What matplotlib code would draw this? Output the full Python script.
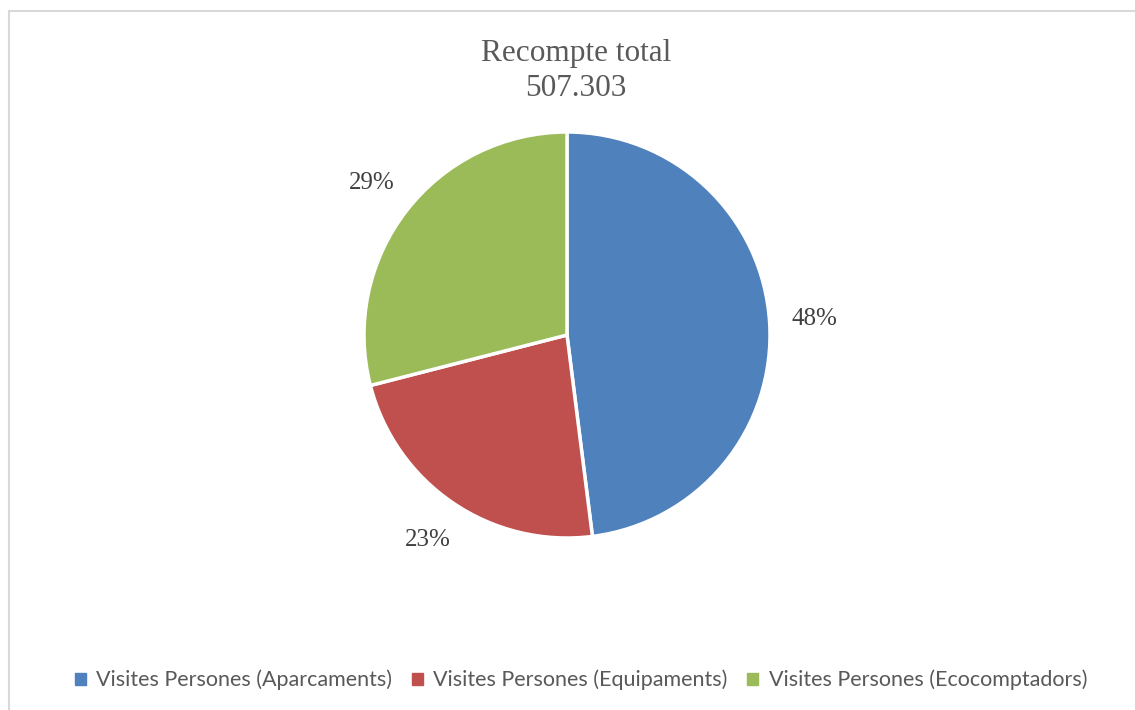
import matplotlib.pyplot as plt
from matplotlib.patches import Rectangle

# pie data
categories = ['Visites Persones (Aparcaments)',
              'Visites Persones (Equipaments)',
              'Visites Persones (Ecocomptadors)']
shares = [48, 23, 29]
colors = ['#4F81BD', '#C0504D', '#9BBB59']
title = 'Recompte total\n507.303'

W, H = 1135, 710
fig = plt.figure(figsize=(W / 100, H / 100), dpi=100)

# light grey chart frame (right and bottom edges fall outside the image)
fig.patches.append(Rectangle((8.5 / W, -10 / H), (W + 20) / W, (H - 1) / H,
                             transform=fig.transFigure, fill=False,
                             edgecolor='#D9D9D9', lw=1.5))

cx, cy, r = 567, 335, 203
ax = fig.add_axes([(cx - r) / W, (H - cy - r) / H, 2 * r / W, 2 * r / H])
wedges, texts, autotexts = ax.pie(shares, colors=colors, startangle=90, counterclock=False,
                                  autopct='%d%%', pctdistance=1.22,
                                  wedgeprops=dict(edgecolor='white', linewidth=2.5),
                                  textprops=dict(family='Liberation Serif', fontsize=18,
                                                 color='#404040'))
ax.set_xlim(-1, 1)
ax.set_ylim(-1, 1)
ax.set_aspect('auto')
ax.axis('off')

fig.text(576 / W, 1 - 71 / H, title, ha='center', va='center', family='Liberation Serif',
         fontsize=22.5, color='#595959', linespacing=1.3)

handles = [Rectangle((0, 0), 1, 1, color=c) for c in colors]
fig.legend(handles, categories, loc='center', bbox_to_anchor=(581 / W, 1 - 680 / H), ncol=3,
           frameon=False, handlelength=0.5, handleheight=0.5, handletextpad=0.5,
           columnspacing=0.9, prop=dict(family='Lato', size=15.5), labelcolor='#595959')

fig.savefig('out.png', dpi=100)
